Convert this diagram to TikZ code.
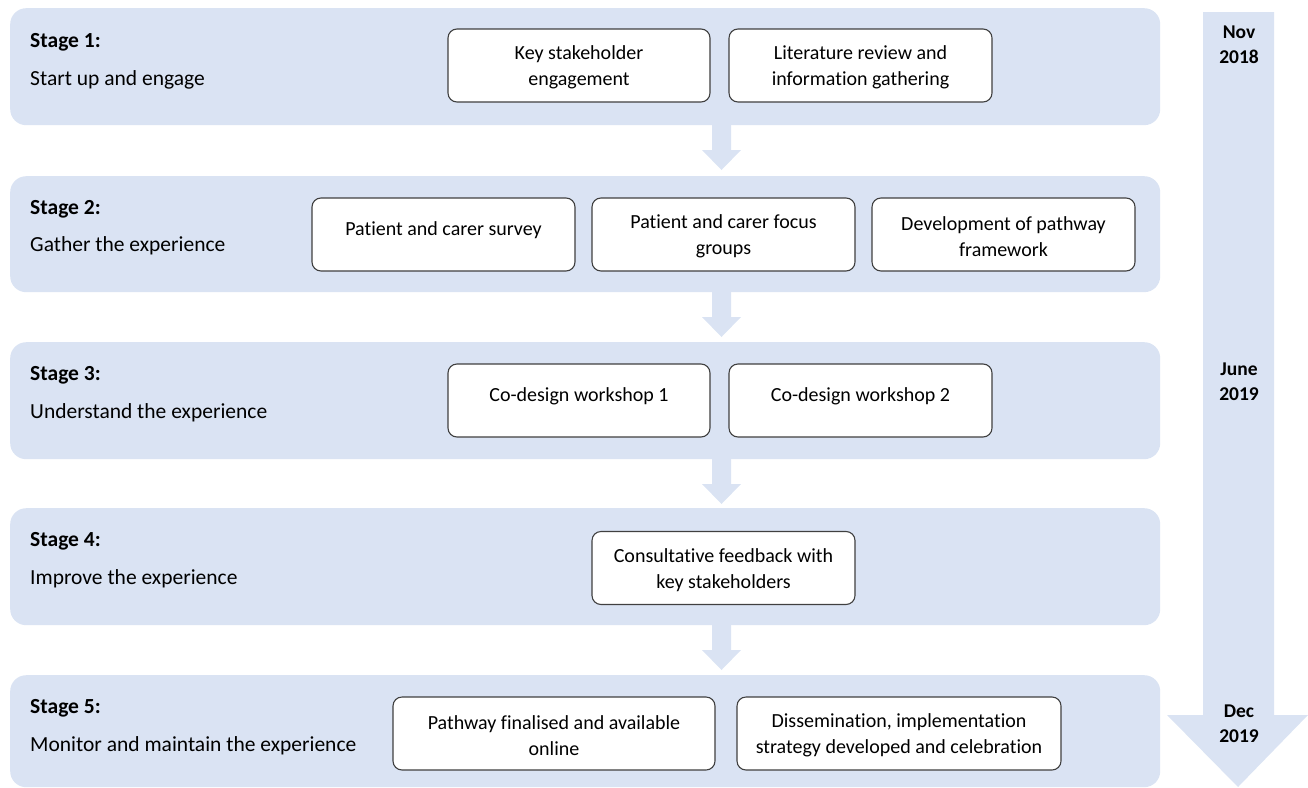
\documentclass[tikz,border=0pt]{standalone}
\usepackage{fontspec}
\setmainfont{Carlito}[Ligatures=NoCommon]
\definecolor{stagefill}{HTML}{DAE3F3}
\definecolor{boxline}{HTML}{404040}
\begin{document}
\begin{tikzpicture}[x=1pt,y=-1pt,
  stage/.style={fill=stagefill, rounded corners=16pt, inner sep=0pt, anchor=north west},
  ibox/.style={draw=boxline, line width=1.1pt, fill=white, rounded corners=9pt, inner sep=0pt, minimum height=73pt},
  btext/.style={align=center, font=\fontsize{20}{26}\selectfont, text=black, inner sep=0pt},
  slabel/.style={anchor=west, font=\fontsize{21.5}{24}\selectfont\bfseries, inner sep=0pt},
  sdesc/.style={anchor=west, font=\fontsize{21.5}{24}\selectfont, inner sep=0pt},
  date/.style={align=center, font=\fontsize{19.5}{25}\selectfont\bfseries, inner sep=0pt},
  flow/.style={fill=stagefill}]
\useasboundingbox (0,0) rectangle (1308,787);

% timeline arrow
\fill[flow] (1203,12) -- (1274,12) -- (1274,715) -- (1308,715) -- (1238,787) -- (1167,715) -- (1203,715) -- cycle;
\node[date] (d1) at (1239,44.5) {Nov\\2018};
\node[date] (d2) at (1239,381.5) {June\\2019};
\node[date] (d3) at (1239,723.5) {Dec\\2019};

% stages
\node[stage, minimum width=1150pt, minimum height=117pt] (s1) at (10,8) {};
\node[stage, minimum width=1150pt, minimum height=116pt] (s2) at (10,176) {};
\node[stage, minimum width=1150pt, minimum height=117pt] (s3) at (10,342) {};
\node[stage, minimum width=1150pt, minimum height=117pt] (s4) at (10,508) {};
\node[stage, minimum width=1150pt, minimum height=112pt] (s5) at (10,675) {};

% small arrows between stages
\foreach \t in {120,287,454,620}{
  \fill[flow] (712,\t) -- (731,\t) -- (731,\t+30) -- (741,\t+30) -- (721.5,\t+50) -- (702,\t+30) -- (712,\t+30) -- cycle;
}

% stage labels
\node[slabel] (l1) at (30,42) {Stage 1:};
\node[sdesc] (t1) at (30,80) {Start up and engage};
\node[slabel] (l2) at (30,209) {Stage 2:};
\node[sdesc] (t2) at (30,246) {Gather the experience};
\node[slabel] (l3) at (30,375) {Stage 3:};
\node[sdesc] (t3) at (30,413) {Understand the experience};
\node[slabel] (l4) at (30,541) {Stage 4:};
\node[sdesc] (t4) at (30,579) {Improve the experience};
\node[slabel] (l5) at (30,708) {Stage 5:};
\node[sdesc] (t5) at (30,746) {Monitor and maintain the experience};

% stage 1 boxes
\node[ibox, minimum width=262pt] (b11) at (579,65.5) {};
\node[btext] (b11t) at (579,67.5) {Key stakeholder\\engagement};
\node[ibox, minimum width=263pt] (b12) at (860.5,65.5) {};
\node[btext] (b12t) at (860.5,67.5) {Literature review and\\information gathering};

% stage 2 boxes
\node[ibox, minimum width=263pt] (b21) at (443.5,234.5) {};
\node[btext] (b21t) at (443.5,230) {Patient and carer survey};
\node[ibox, minimum width=263pt] (b22) at (723.5,234.5) {};
\node[btext] (b22t) at (723.5,236.5) {Patient and carer focus\\groups};
\node[ibox, minimum width=263pt] (b23) at (1003.5,234.5) {};
\node[btext] (b23t) at (1003.5,236.5) {Development of pathway\\framework};

% stage 3 boxes
\node[ibox, minimum width=262pt] (b31) at (579,400.5) {};
\node[btext] (b31t) at (579,396) {Co-design workshop 1};
\node[ibox, minimum width=263pt] (b32) at (860.5,400.5) {};
\node[btext] (b32t) at (860.5,396) {Co-design workshop 2};

% stage 4 box
\node[ibox, minimum width=263pt] (b41) at (723.5,568) {};
\node[btext] (b41t) at (723.5,570) {Consultative feedback with\\key stakeholders};

% stage 5 boxes
\node[ibox, minimum width=322pt] (b51) at (554,733.5) {};
\node[btext] (b51t) at (554,735.5) {Pathway finalised and available\\online};
\node[ibox, minimum width=324pt] (b52) at (899,733.5) {};
\node[btext] (b52t) at (899,735.5) {Dissemination, implementation\\strategy developed and celebration};
\end{tikzpicture}
\end{document}
